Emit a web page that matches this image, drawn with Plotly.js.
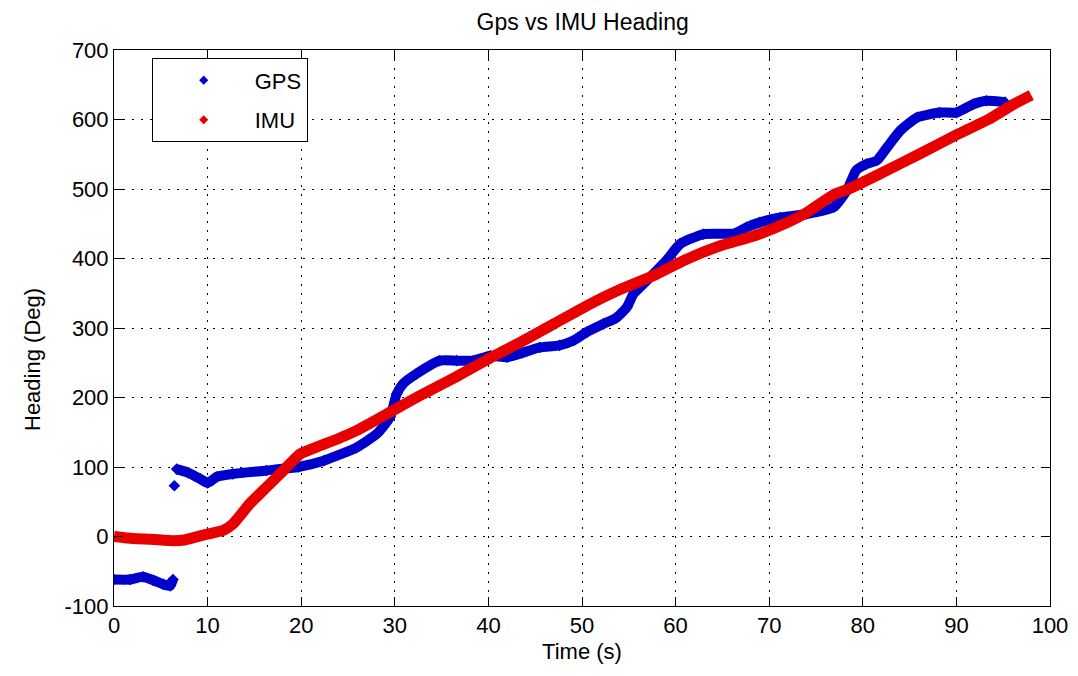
<!DOCTYPE html>
<html>
<head>
<meta charset="utf-8">
<script src="https://cdn.plot.ly/plotly-3.0.1.min.js"></script>
<style>
  html, body { margin: 0; padding: 0; background: #ffffff; }
  #chart { width: 1078px; height: 676px; }
</style>
</head>
<body>
<div id="chart"></div>
<script>
// GPS heading: segment before the dropout
var gpsTime1 = [0, 1.7, 3.1, 4.2, 5.3, 6.0, 6.3];
var gpsHeading1 = [-62, -62, -58, -63, -69, -71, -62];
// single GPS outlier sample
var gpsOutlierTime = [6.45];
var gpsOutlierHeading = [73];
// GPS heading after the dropout
var gpsTime2 = [6.7, 7.9, 9.2, 10.0, 11.0, 12.7, 16.3, 19.7, 22.4, 25.9, 28.1, 29.5, 30.2, 30.9, 32.3, 34.8, 36.6, 38.4, 40.2, 42.0, 43.6, 45.5, 47.6, 49.1, 50.5, 52.3, 53.7, 54.8, 55.5, 56.9, 59.0, 60.5, 63.0, 66.3, 67.6, 69.0, 71.2, 74.0, 76.9, 78.3, 79.3, 80.4, 81.5, 82.6, 84.0, 85.8, 88.2, 90.0, 91.8, 93.2, 95.2];
var gpsHeading2 = [97, 92, 83, 77, 86, 90, 95, 100, 109, 128, 148, 172, 205, 220, 234, 253, 253, 253, 260, 258, 264, 272, 275, 282, 294, 306, 315, 330, 349, 368, 397, 421, 435, 436, 445, 452, 459, 464, 474, 498, 527, 536, 541, 560, 584, 603, 610, 610, 622, 627, 625];

// IMU heading
var imuTime = [0, 2, 4, 6.3, 7.5, 9.2, 10.5, 11.7, 12.7, 14.5, 16.3, 18.1, 19.9, 21.7, 24, 26, 29.5, 33, 36.6, 40.2, 43.5, 47, 50.5, 54, 57.6, 61, 64.7, 68.5, 72, 74, 76.9, 78.5, 82, 86, 90, 93.4, 96, 98];
var imuHeading = [0, -3, -4, -6, -5, 1, 5, 9, 18, 47, 71, 95, 119, 129, 141, 153, 179, 205, 230, 257, 280, 306, 332, 355, 375, 398, 418, 433, 452, 466, 492, 500, 523, 550, 578, 600, 621, 635];

// axis ticks
var xTicks = [0, 10, 20, 30, 40, 50, 60, 70, 80, 90, 100];
var yTicks = [-100, 0, 100, 200, 300, 400, 500, 600, 700];

var blue = '#0000cc';
var red = '#e80000';
var font = 'Liberation Sans, Arial, Helvetica, sans-serif';

var gpsX = gpsTime1.concat([null], gpsOutlierTime, [null], gpsTime2);
var gpsY = gpsHeading1.concat([null], gpsOutlierHeading, [null], gpsHeading2);

var traces = [
  {
    x: gpsX, y: gpsY, type: 'scatter', mode: 'lines+markers',
    line: { color: blue, width: 10, shape: 'spline', smoothing: 0.5 },
    marker: { color: blue, size: 9, symbol: 'diamond' },
    connectgaps: false, showlegend: false, hoverinfo: 'x+y'
  },
  {
    x: imuTime, y: imuHeading, type: 'scatter', mode: 'lines',
    line: { color: red, width: 11, shape: 'spline', smoothing: 0.5 },
    showlegend: false, hoverinfo: 'x+y'
  },
  // legend entries (marker only, like the original legend)
  {
    x: [null], y: [null], type: 'scatter', mode: 'markers', name: 'GPS',
    legendgroup: 'gps', marker: { color: blue, size: 7, symbol: 'diamond' }
  },
  {
    x: [null], y: [null], type: 'scatter', mode: 'markers', name: 'IMU',
    legendgroup: 'imu', marker: { color: red, size: 7, symbol: 'diamond' }
  }
];

var axisCommon = {
  showline: true, linecolor: '#000', linewidth: 1, mirror: 'ticks',
  ticks: 'inside', ticklen: 9, tickcolor: '#000', tickwidth: 1,
  showgrid: true, gridcolor: '#000', gridwidth: 1, griddash: '2px,7px',
  zeroline: false, tickfont: { family: font, size: 22, color: '#000' }
};

var layout = {
  width: 1078, height: 676,
  paper_bgcolor: '#ffffff', plot_bgcolor: '#ffffff',
  margin: { l: 114, r: 28, t: 50, b: 70 },
  font: { family: font, color: '#000' },
  title: {
    text: 'Gps vs IMU Heading',
    font: { family: font, size: 23, color: '#000' },
    x: 0.5405, xref: 'container', xanchor: 'center',
    y: 1 - 22 / 676, yref: 'container', yanchor: 'middle'
  },
  xaxis: Object.assign({}, axisCommon, {
    range: [0, 100], tickmode: 'array', tickvals: xTicks, ticktext: xTicks.map(String),
    title: { text: 'Time (s)', font: { family: font, size: 22, color: '#000' }, standoff: 6 }
  }),
  yaxis: Object.assign({}, axisCommon, {
    range: [-100, 700], tickmode: 'array', tickvals: yTicks, ticktext: yTicks.map(String),
    title: { text: '' }
  }),
  annotations: [{
    text: 'Heading (Deg)', textangle: -90, showarrow: false,
    xref: 'paper', yref: 'paper', x: -(114 - 32) / 936, y: (606 - 360) / 556,
    xanchor: 'center', yanchor: 'middle',
    font: { family: font, size: 22, color: '#000' }
  }],
  legend: {
    x: 0.0403, y: 0.985, xanchor: 'left', yanchor: 'top',
    bgcolor: '#ffffff', bordercolor: '#000', borderwidth: 1,
    font: { family: font, size: 22, color: '#000' },
    itemwidth: 92, tracegroupgap: 8, itemclick: false, itemdoubleclick: false
  },
  showlegend: true
};

Plotly.newPlot('chart', traces, layout, { displayModeBar: false, staticPlot: true });
</script>
</body>
</html>
